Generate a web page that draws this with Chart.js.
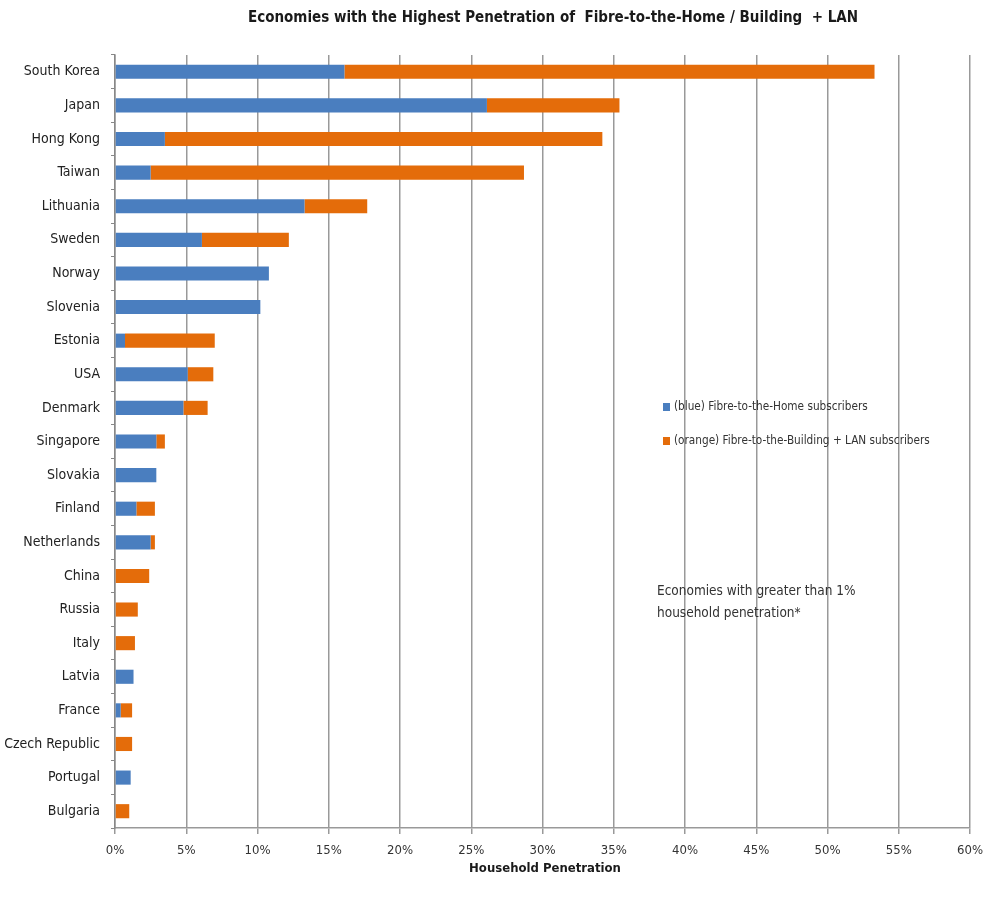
<!DOCTYPE html>
<html>
<head>
<meta charset="utf-8">
<script src="https://cdn.jsdelivr.net/npm/chart.js@4.4.1/dist/chart.umd.min.js"></script>
<style>
  html, body { margin: 0; padding: 0; background: #ffffff; }
  #wrap { width: 983px; height: 906px; position: relative; }
</style>
</head>
<body>
<div id="wrap"><canvas id="c" width="983" height="906"></canvas></div>
<script>
const categories = ["South Korea","Japan","Hong Kong","Taiwan","Lithuania","Sweden","Norway","Slovenia","Estonia","USA","Denmark","Singapore","Slovakia","Finland","Netherlands","China","Russia","Italy","Latvia","France","Czech Republic","Portugal","Bulgaria"];
const fthValues  = [16.1, 26.1, 3.5, 2.5, 13.3, 6.1, 10.8, 10.2, 0.7, 5.1, 4.8, 2.9, 2.9, 1.5, 2.5, 0, 0, 0, 1.3, 0.4, 0, 1.1, 0];
const fttbValues = [37.2, 9.3, 30.7, 26.2, 4.4, 6.1, 0, 0, 6.3, 1.8, 1.7, 0.6, 0, 1.3, 0.3, 2.4, 1.6, 1.4, 0, 0.8, 1.2, 0, 1.0];
const xTicks = [0,5,10,15,20,25,30,35,40,45,50,55,60];
const seriesNames = ["(blue) Fibre-to-the-Home subscribers", "(orange) Fibre-to-the-Building + LAN subscribers"];
const titleText = "Economies with the Highest Penetration of  Fibre-to-the-Home / Building  + LAN";
const xTitle = "Household Penetration";
const noteLines = ["Economies with greater than 1%", "household penetration*"];

const FONT = "'Liberation Sans Narrow', 'DejaVu Sans Condensed', 'Roboto', sans-serif";
const BLUE = "#4a7ebf";
const ORANGE = "#e46c0a";

const overlay = {
  id: 'overlay',
  afterDraw(chart) {
    const ctx = chart.ctx;
    ctx.save();
    // title
    ctx.fillStyle = '#1a1a1a';
    ctx.font = "bold 15px " + FONT;
    ctx.textAlign = 'center';
    ctx.textBaseline = 'middle';
    ctx.fillText(titleText, 553, 18);
    // x axis title
    ctx.font = "bold 13px " + FONT;
    ctx.fillText(xTitle, 545, 869);
    // legend
    ctx.font = "11.7px " + FONT;
    ctx.textAlign = 'left';
    const cols = [BLUE, ORANGE];
    const ly = [407, 441];
    for (let i = 0; i < 2; i++) {
      ctx.fillStyle = cols[i];
      ctx.fillRect(663, ly[i] - 4, 7, 8);
      ctx.fillStyle = '#333';
      ctx.fillText(seriesNames[i], 674, ly[i]);
    }
    // note
    ctx.font = "13.5px " + FONT;
    ctx.fillStyle = '#333';
    ctx.fillText(noteLines[0], 657, 591);
    ctx.fillText(noteLines[1], 657, 613);
    ctx.restore();
  }
};

new Chart(document.getElementById('c'), {
  type: 'bar',
  data: {
    labels: categories,
    datasets: [
      { label: seriesNames[0], data: fthValues, backgroundColor: BLUE, barPercentage: 0.42, categoryPercentage: 1.0 },
      { label: seriesNames[1], data: fttbValues, backgroundColor: ORANGE, barPercentage: 0.42, categoryPercentage: 1.0 }
    ]
  },
  options: {
    indexAxis: 'y',
    responsive: false,
    animation: false,
    devicePixelRatio: 1,
    layout: { padding: { top: 55, right: 13, left: 0, bottom: 0 } },
    plugins: {
      legend: { display: false },
      title: { display: false },
      tooltip: { enabled: false }
    },
    scales: {
      x: {
        stacked: true,
        min: 0, max: 60,
        afterBuildTicks(axis) { axis.ticks = xTicks.map(v => ({ value: v })); },
        afterFit(axis) { axis.height = 78; axis.paddingLeft = 0; axis.paddingRight = 0; },
        ticks: {
          callback: v => v + '%',
          color: '#333',
          font: { family: FONT, size: 13 },
          padding: 9,
          maxRotation: 0
        },
        grid: { color: '#999', lineWidth: 1.5, tickLength: 6, drawTicks: true },
        border: { display: true, color: '#999', width: 1.5 }
      },
      y: {
        stacked: true,
        afterFit(axis) { axis.width = 115; axis.paddingTop = 0; axis.paddingBottom = 0; },
        ticks: { color: '#222', font: { family: FONT, size: 14 }, padding: 11, autoSkip: false },
        grid: { drawOnChartArea: false, drawTicks: true, tickLength: 4, color: '#888', offset: true },
        border: { display: true, color: '#888', width: 1.5 }
      }
    }
  },
  plugins: [overlay]
});
</script>
</body>
</html>
